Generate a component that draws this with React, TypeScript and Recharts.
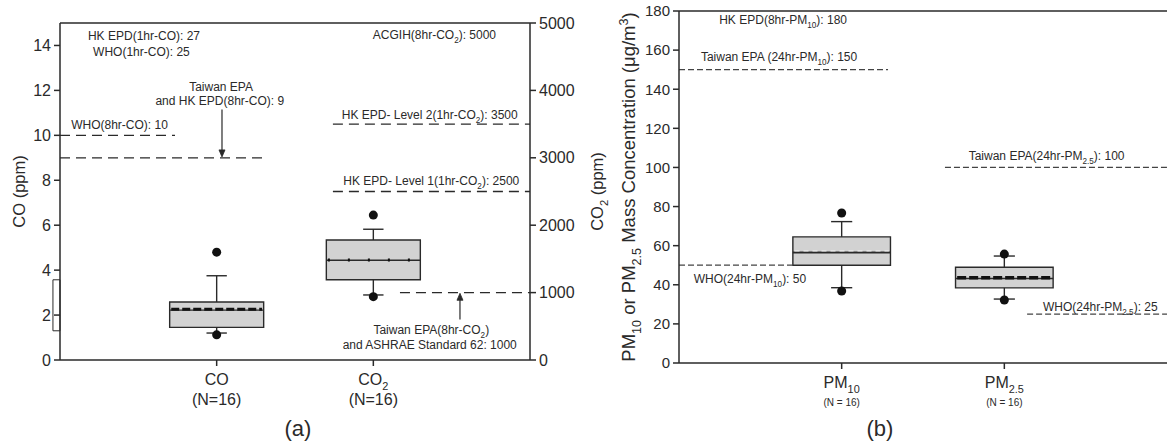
import React from 'react';
import { ComposedChart, XAxis, YAxis, ReferenceLine, ReferenceArea, Scatter } from 'recharts';

const FONT = '"Liberation Sans", Arial, Helvetica, sans-serif';
const INK = '#2a2a2a';
const BOX_FILL = '#d2d2d2';

// ---------------- data ----------------
const categoriesA = ['CO', 'CO_{2}'];
const countLabelsA = ['(N=16)', '(N=16)'];
const categoriesB = ['PM_{10}', 'PM_{2.5}'];
const countLabelsB = ['(N = 16)', '(N = 16)'];

// [lower whisker, Q1, median, mean, Q3, upper whisker]
const coBox = [1.2, 1.45, 2.22, 2.26, 2.58, 3.75];
const co2Box = [965, 1190, 1480, 1484, 1780, 1940];
const pm10Box = [38.5, 50, 56.5, 57.3, 64.5, 72.3];
const pm25Box = [32.7, 38.4, 43.2, 43.6, 49.0, 54.7];

const coOutliers = [4.8, 1.12];
const co2Outliers = [2150, 940];
const pm10Outliers = [76.7, 36.8];
const pm25Outliers = [55.7, 32.2];

const coTicks = [0, 2, 4, 6, 8, 10, 12, 14];
const co2Ticks = [0, 1000, 2000, 3000, 4000, 5000];
const pmTicks = [0, 20, 40, 60, 80, 100, 120, 140, 160, 180];

const coStandards = [10, 9];
const co2Standards = [3500, 2500, 1000];
const pmStandards = [150, 100, 50, 25];

const notesCO = ['HK EPD(1hr-CO): 27', 'WHO(1hr-CO): 25', 'Taiwan EPA', 'and HK EPD(8hr-CO): 9', 'WHO(8hr-CO): 10'];
const notesCO2 = [
  'ACGIH(8hr-CO_{2}): 5000',
  'HK EPD- Level 2(1hr-CO_{2}): 3500',
  'HK EPD- Level 1(1hr-CO_{2}): 2500',
  'Taiwan EPA(8hr-CO_{2})',
  'and ASHRAE Standard 62: 1000',
];
const notesPM = [
  'HK EPD(8hr-PM_{10}): 180',
  'Taiwan EPA (24hr-PM_{10}): 150',
  'Taiwan EPA(24hr-PM_{2.5}): 100',
  'WHO(24hr-PM_{10}): 50',
  'WHO(24hr-PM_{2.5}): 25',
];

// ---------------- layout (data-unit placements) ----------------
const BOX_HALF = 0.3;
const CAP = 0.065;
const coStandardSpans = [[0, 0.734], [0, 1.29]];
const co2StandardSpans = [[1.742, 3], [1.742, 3], [2.17, 3]];
const pmStandardSpans = [[0, 1.285], [1.635, 3], [0, 0.7], [2.14, 3]];
const notesCOPos = [[0.536, 14.24], [0.52, 13.53], [1.028, 11.97], [1.02, 11.35], [0.38, 10.28]];
const notesCO2Pos = [[2.39, 4763], [2.36, 3576], [2.37, 2597], [2.37, 386], [2.36, 163]];
const notesPMPos = [[0.64, 173.4], [0.615, 154.4], [2.26, 103.8], [0.436, 40.9], [2.59, 26.6]];
const arrowCO = [[1.034, 11.15], [1.034, 9.04]];
const arrowCO2 = [[2.553, 600], [2.553, 990]];

// ---------------- helpers ----------------
type Seg = { t: string; k: 'n' | 'sub' | 'sup' };
function parseRich(s: string): Seg[] {
  const out: Seg[] = [];
  const re = /([_^])\{([^}]*)\}/g;
  let last = 0;
  let m: RegExpExecArray | null;
  while ((m = re.exec(s))) {
    if (m.index > last) out.push({ t: s.slice(last, m.index), k: 'n' });
    out.push({ t: m[2], k: m[1] === '_' ? 'sub' : 'sup' });
    last = re.lastIndex;
  }
  if (last < s.length) out.push({ t: s.slice(last), k: 'n' });
  return out;
}

const RichText = ({ x, y, s, size, anchor = 'middle', rotate = false }: any) => {
  const segs = parseRich(s);
  let cur = 0;
  const subShift = size * 0.3;
  const supShift = -size * 0.4;
  const spans = segs.map((g, i) => {
    const target = g.k === 'sub' ? subShift : g.k === 'sup' ? supShift : 0;
    const dy = target - cur;
    cur = target;
    return (
      <tspan key={i} dy={dy} fontSize={g.k === 'n' ? size : size * 0.68}>
        {g.t}
      </tspan>
    );
  });
  return (
    <text
      x={x}
      y={y}
      textAnchor={anchor}
      fontSize={size}
      fill={INK}
      fontFamily={FONT}
      transform={rotate ? `rotate(-90 ${x} ${y})` : undefined}
    >
      {spans}
    </text>
  );
};

const arrowShape = (p: any) => {
  const { x1, y1, x2, y2 } = p;
  const dir = y2 > y1 ? 1 : -1;
  return (
    <g>
      <line x1={x1} y1={y1} x2={x2} y2={y2 - dir * 4} stroke={INK} strokeWidth={1.2} />
      <path d={`M${x2 - 3},${y2 - dir * 7} L${x2},${y2} L${x2 + 3},${y2 - dir * 7} Z`} fill={INK} stroke={INK} strokeWidth={0.8} />
    </g>
  );
};

type MeanStyle = { stroke: string; width: number; dash: string; medW: number };

function boxElements(key: string, xc: number, s: number[], yAxisId: string, ms: MeanStyle) {
  const [lo, q1, med, mean, q3, hi] = s;
  const seg = (k: string, x1: number, y1: number, x2: number, y2: number, extra: any = {}) => (
    <ReferenceLine
      key={key + k}
      yAxisId={yAxisId}
      segment={[{ x: x1, y: y1 }, { x: x2, y: y2 }]}
      stroke={INK}
      strokeWidth={1.4}
      ifOverflow="visible"
      {...extra}
    />
  );
  return [
    <ReferenceArea
      key={key + 'box'}
      yAxisId={yAxisId}
      x1={xc - BOX_HALF}
      x2={xc + BOX_HALF}
      y1={q1}
      y2={q3}
      fill={BOX_FILL}
      fillOpacity={1}
      stroke={INK}
      strokeWidth={1.4}
      ifOverflow="visible"
    />,
    seg('wu', xc, q3, xc, hi),
    seg('cu', xc - CAP, hi, xc + CAP, hi),
    seg('wl', xc, q1, xc, lo),
    seg('cl', xc - CAP, lo, xc + CAP, lo),
    seg('med', xc - BOX_HALF, med, xc + BOX_HALF, med, { strokeWidth: ms.medW }),
    seg('mean', xc - BOX_HALF + 0.01, mean, xc + BOX_HALF - 0.01, mean, {
      stroke: ms.stroke,
      strokeWidth: ms.width,
      strokeDasharray: ms.dash,
    }),
  ];
}

const outlierData = (xc: number, vals: number[]) => vals.map((v) => ({ x: xc, y: v }));
const noteData = (texts: string[], pos: number[][]) => texts.map((t, i) => ({ x: pos[i][0], y: pos[i][1], t }));
const noteShape = (p: any) => <RichText x={p.cx} y={p.cy} s={p.payload.t} size={12} anchor="middle" />;

const CatTick = ({ x, y, payload, names, counts, countSize, countDy }: any) => {
  const i = Math.round(payload.value) - 1;
  if (i < 0 || i >= names.length) return null;
  return (
    <g>
      <RichText x={x} y={y + 19} s={names[i]} size={16} anchor="middle" />
      <text x={x} y={y + countDy} textAnchor="middle" fontSize={countSize} fill={INK} fontFamily={FONT}>
        {counts[i]}
      </text>
    </g>
  );
};

const axisStyle = { stroke: INK, strokeWidth: 1.5 };

// ---------------- panel (a) ----------------
const PanelA = () => (
  <ComposedChart width={615} height={448} data={[]} margin={{ top: 23, right: 15, left: 0, bottom: 0 }}>
    <XAxis
      dataKey="x"
      type="number"
      domain={[0, 3]}
      ticks={[1, 2]}
      allowDataOverflow
      height={88}
      axisLine={axisStyle}
      tickLine={axisStyle}
      tickSize={6}
      tickMargin={0}
      interval={0}
      tick={(p: any) => <CatTick {...p} names={categoriesA} counts={countLabelsA} countSize={16} countDy={39} />}
      label={{
        content: (p: any) => {
          const vb = p.viewBox;
          return (
            <text x={vb.x + vb.width / 2 + 3} y={vb.y + 76} textAnchor="middle" fontSize={22} fill={INK} fontFamily={FONT}>
              (a)
            </text>
          );
        },
      }}
    />
    <YAxis
      yAxisId="left"
      dataKey="y"
      orientation="left"
      width={60}
      domain={[0, 15]}
      ticks={coTicks}
      allowDataOverflow
      axisLine={axisStyle}
      tickLine={axisStyle}
      tickSize={6}
      tickMargin={3}
      tick={{ fontSize: 16, fill: INK, fontFamily: FONT }}
      label={{
        content: (p: any) => {
          const vb = p.viewBox;
          return <RichText x={vb.x + 25} y={vb.y + vb.height / 2} s="CO (ppm)" size={16.5} rotate />;
        },
      }}
    />
    <YAxis
      yAxisId="right"
      dataKey="y"
      orientation="right"
      width={70}
      domain={[0, 5000]}
      ticks={co2Ticks}
      allowDataOverflow
      axisLine={axisStyle}
      tickLine={axisStyle}
      tickSize={6}
      tickMargin={3}
      tick={{ fontSize: 16, fill: INK, fontFamily: FONT }}
      label={{
        content: (p: any) => {
          const vb = p.viewBox;
          return <RichText x={vb.x + 73} y={vb.y + vb.height / 2} s="CO_{2} (ppm)" size={16.5} rotate />;
        },
      }}
    />
    <ReferenceLine yAxisId="left" y={15} stroke={INK} strokeWidth={1.5} />
    <ReferenceArea
      yAxisId="left"
      x1={-0.045}
      x2={0}
      y1={1.3}
      y2={3.57}
      fill="none"
      fillOpacity={0}
      stroke={INK}
      strokeWidth={1}
      ifOverflow="visible"
    />
    {coStandards.map((v, i) => (
      <ReferenceLine
        key={'cs' + i}
        yAxisId="left"
        segment={[{ x: coStandardSpans[i][0], y: v }, { x: coStandardSpans[i][1], y: v }]}
        stroke={INK}
        strokeWidth={1.3}
        strokeDasharray="10 6"
      />
    ))}
    {co2Standards.map((v, i) => (
      <ReferenceLine
        key={'c2s' + i}
        yAxisId="right"
        segment={[{ x: co2StandardSpans[i][0], y: v }, { x: co2StandardSpans[i][1], y: v }]}
        stroke={INK}
        strokeWidth={1.3}
        strokeDasharray="10 6"
      />
    ))}
    <ReferenceLine
      yAxisId="left"
      segment={[{ x: arrowCO[0][0], y: arrowCO[0][1] }, { x: arrowCO[1][0], y: arrowCO[1][1] }]}
      shape={arrowShape}
    />
    <ReferenceLine
      yAxisId="right"
      segment={[{ x: arrowCO2[0][0], y: arrowCO2[0][1] }, { x: arrowCO2[1][0], y: arrowCO2[1][1] }]}
      shape={arrowShape}
    />
    {boxElements('co', 1, coBox, 'left', { stroke: '#111', width: 3, dash: '8 3', medW: 1.4 })}
    {boxElements('co2', 2, co2Box, 'right', { stroke: '#111', width: 3, dash: '2 18', medW: 1.6 })}
    <Scatter yAxisId="left" data={outlierData(1, coOutliers)} dataKey="y" fill="#111" isAnimationActive={false} />
    <Scatter yAxisId="right" data={outlierData(2, co2Outliers)} dataKey="y" fill="#111" isAnimationActive={false} />
    <Scatter yAxisId="left" data={noteData(notesCO, notesCOPos)} dataKey="y" shape={noteShape} isAnimationActive={false} />
    <Scatter yAxisId="right" data={noteData(notesCO2, notesCO2Pos)} dataKey="y" shape={noteShape} isAnimationActive={false} />
  </ComposedChart>
);

// ---------------- panel (b) ----------------
const PanelB = () => (
  <ComposedChart width={567} height={448} data={[]} margin={{ top: 11, right: 0, left: 0, bottom: 0 }}>
    <XAxis
      dataKey="x"
      type="number"
      domain={[0, 3]}
      ticks={[1, 2]}
      allowDataOverflow
      height={85}
      axisLine={axisStyle}
      tickLine={axisStyle}
      tickSize={6}
      tickMargin={0}
      interval={0}
      tick={(p: any) => <CatTick {...p} names={categoriesB} counts={countLabelsB} countSize={10} countDy={37} />}
      label={{
        content: (p: any) => {
          const vb = p.viewBox;
          return (
            <text x={vb.x + 201} y={vb.y + 73} textAnchor="middle" fontSize={22} fill={INK} fontFamily={FONT}>
              (b)
            </text>
          );
        },
      }}
    />
    <YAxis
      yAxisId="left"
      dataKey="y"
      orientation="left"
      width={79}
      domain={[0, 180]}
      ticks={pmTicks}
      allowDataOverflow
      axisLine={axisStyle}
      tickLine={axisStyle}
      tickSize={6}
      tickMargin={3}
      tick={{ fontSize: 15, fill: INK, fontFamily: FONT }}
      label={{
        content: (p: any) => {
          const vb = p.viewBox;
          return (
            <RichText
              x={vb.x + 35}
              y={vb.y + vb.height / 2}
              s="PM_{10} or PM_{2.5} Mass Concentration (μg/m^{3})"
              size={18.5}
              rotate
            />
          );
        },
      }}
    />
    <ReferenceLine yAxisId="left" y={180} stroke={INK} strokeWidth={1.5} />
    {pmStandards.map((v, i) => (
      <ReferenceLine
        key={'ps' + i}
        yAxisId="left"
        segment={[{ x: pmStandardSpans[i][0], y: v }, { x: pmStandardSpans[i][1], y: v }]}
        stroke="#444"
        strokeWidth={1.2}
        strokeDasharray="6 3"
      />
    ))}
    {boxElements('pm10', 1, pm10Box, 'left', { stroke: '#f2f2f2', width: 1, dash: '5 4', medW: 2 })}
    {boxElements('pm25', 2, pm25Box, 'left', { stroke: '#111', width: 3.5, dash: '9 3', medW: 1.3 })}
    <Scatter yAxisId="left" data={outlierData(1, pm10Outliers)} dataKey="y" fill="#111" isAnimationActive={false} />
    <Scatter yAxisId="left" data={outlierData(2, pm25Outliers)} dataKey="y" fill="#111" isAnimationActive={false} />
    <Scatter yAxisId="left" data={noteData(notesPM, notesPMPos)} dataKey="y" shape={noteShape} isAnimationActive={false} />
  </ComposedChart>
);

export default function App() {
  return (
    <div style={{ position: 'absolute', left: 0, top: 0, width: 1167, height: 448, background: '#fff', fontFamily: FONT, overflow: 'hidden' }}>
      <div style={{ position: 'absolute', left: 0, top: 0 }}>
        <PanelA />
      </div>
      <div style={{ position: 'absolute', left: 600, top: 0 }}>
        <PanelB />
      </div>
    </div>
  );
}
